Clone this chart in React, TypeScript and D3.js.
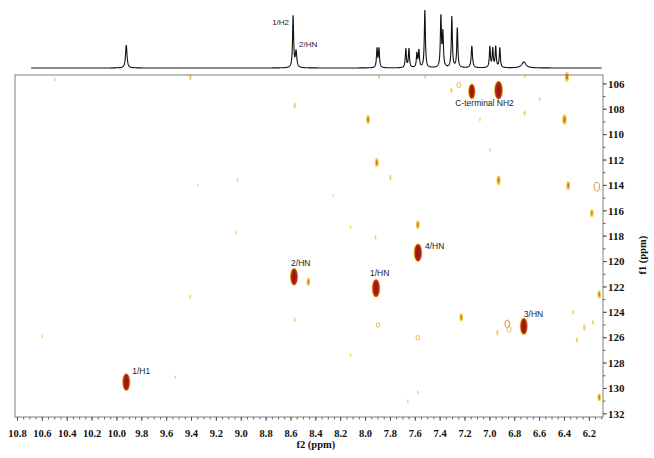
import React from "react";
import * as d3 from "d3";

const W = 654;
const H = 458;

// 1D 1H projection (top trace): peak centres in ppm, heights, half widths in ppm
const hPpm = [9.925, 8.583, 8.559, 7.908, 7.892, 7.676, 7.651, 7.587, 7.571, 7.523, 7.394, 7.378, 7.306, 7.262, 7.145, 7.0, 6.977, 6.953, 6.92, 6.727];
const hHeight = [23, 52, 16, 19, 19, 19, 19, 14, 17, 58, 51, 34, 51, 40, 22, 21, 19, 21, 20, 6];
const hWidth = [0.007, 0.005, 0.007, 0.005, 0.005, 0.005, 0.005, 0.005, 0.005, 0.005, 0.005, 0.005, 0.005, 0.005, 0.006, 0.005, 0.005, 0.005, 0.005, 0.02];

// 2D cross peaks: f2 (1H ppm), f1 (15N ppm), intensity
const peakF2 = [9.925, 8.575, 7.916, 7.578, 6.727, 7.145, 6.93,
  7.98, 7.91, 6.40, 6.93, 7.58, 9.41, 6.38, 8.46, 7.23, 6.18, 6.12, 6.12, 6.37, 7.8, 8.57, 7.31, 6.72,
  7.92, 6.94, 6.24, 6.30, 6.17, 6.33, 6.6, 7.08, 7.0, 10.5, 9.41, 10.6, 9.53, 9.03, 9.04, 8.12, 8.57,
  7.58, 7.66, 7.52, 6.72, 7.89, 9.35, 8.12, 8.26];
const peakF1 = [129.5, 121.2, 122.1, 119.3, 125.1, 106.6, 106.5,
  108.8, 112.2, 108.8, 113.6, 117.1, 105.45, 105.45, 121.6, 124.4, 116.2, 122.6, 130.7, 114.0, 113.4, 107.7, 106.5, 108.3,
  118.1, 125.6, 125.2, 126.2, 124.8, 124.0, 107.2, 108.8, 111.2, 105.65, 122.8, 125.9, 129.1, 113.6, 117.7, 127.4, 124.6,
  130.3, 131.0, 105.45, 105.4, 105.45, 114.0, 117.3, 114.8];
const peakInt = [85, 85, 95, 95, 80, 65, 100,
  20, 20, 30, 24, 18, 14, 24, 16, 16, 15, 15, 15, 20, 12, 12, 12, 12,
  8, 12, 14, 12, 8, 8, 8, 6, 5, 6, 8, 5, 5, 5, 5, 5, 8,
  6, 5, 6, 6, 8, 4, 5, 4];

// contour rings (weak open contours)
const ringF2 = [6.14, 7.25, 6.86, 6.845, 7.9, 7.58];
const ringF1 = [114.1, 106.1, 124.9, 125.35, 125.0, 126.0];
const ringInt = [40, 14, 30, 18, 10, 12];

// assignment labels, anchored on their peaks
const labelText = ["1/H1", "2/HN", "1/HN", "4/HN", "3/HN", "C-terminal NH2"];
const labelF2 = [9.925, 8.575, 7.916, 7.578, 6.727, 6.93];
const labelF1 = [129.5, 121.2, 122.1, 119.3, 125.1, 106.5];

const f2Ticks = d3.range(62, 109, 2).map((v) => v / 10);
const f2Minor = d3.range(610, 1081, 5).map((v) => v / 100);
const f1Ticks = d3.range(106, 133, 2);
const f1Minor = d3.range(106, 133, 1);

export default function App() {
  const frame = { left: 15, right: 603, top: 75, bottom: 417 };

  const x = d3.scaleLinear().domain([10.82, 6.09]).range([frame.left, frame.right]);
  const y = d3.scaleLinear().domain([105.3, 132.25]).range([frame.top, frame.bottom]);
  const yTrace = d3.scaleLinear().domain([0, 60]).range([68, 8]);

  const rY = d3.scaleSqrt().domain([0, 100]).range([0, 8.5]);
  const rX = d3.scaleSqrt().domain([0, 100]).range([0, 3.3]);

  // 1D trace as a sum of lorentzian lines from the peak list
  const trace = d3.range(10.69, 6.1, -0.0015).map((p) => {
    let v = 0;
    hPpm.forEach((c, i) => {
      const w = hWidth[i];
      v += (hHeight[i] * w * w) / ((p - c) * (p - c) + w * w);
    });
    return [p, v] as [number, number];
  });
  const line = d3.line<[number, number]>().x((d) => x(d[0])).y((d) => yTrace(d[1]));

  const labelDx = [6, -3, -6, 7, 0, -14];
  const labelDy = [-8, -11, -12, -4, -9, 16];
  const labelAnchor = ["start", "start", "start", "start", "start", "middle"];

  const serif = "'Liberation Serif', 'Times New Roman', serif";
  const sans = "'Liberation Sans', Arial, sans-serif";

  return (
    <svg width={W} height={H} style={{ position: "absolute", left: 0, top: 0, background: "#fff" }}>
      <rect width={W} height={H} fill="#fff" />

      {/* 1D projection */}
      <path d={line(trace) || ""} fill="none" stroke="#111" strokeWidth={1.1} />
      <text x={x(8.583) - 4} y={25} fontFamily={sans} fontSize={8} textAnchor="end" fill="#222">1/H2</text>
      <text x={x(8.559) + 3} y={47} fontFamily={sans} fontSize={8} fill="#222">2/HN</text>

      {/* cross peaks */}
      <g>
        {peakF2.map((p, i) => {
          const cx = x(p);
          const cy = y(peakF1[i]);
          const v = peakInt[i];
          const rx = Math.max(rX(v), 0.7);
          const ry = rY(v);
          if (v >= 50) {
            return (
              <g key={i}>
                <ellipse cx={cx} cy={cy} rx={rx + 1.1} ry={ry + 1.1} fill="#f2c12e" />
                <ellipse cx={cx} cy={cy} rx={rx + 0.5} ry={ry + 0.5} fill="#de6a1c" />
                <ellipse cx={cx} cy={cy} rx={rx} ry={ry} fill="#ad1f17" />
                <ellipse cx={cx} cy={cy} rx={rx * 0.65} ry={ry * 0.8} fill="#981711" stroke="#c2452f" strokeWidth={0.4} />
              </g>
            );
          }
          if (v >= 15) {
            return (
              <g key={i}>
                <ellipse cx={cx} cy={cy} rx={rx + 0.5} ry={ry + 0.7} fill="#f4cc4a" />
                <ellipse cx={cx} cy={cy} rx={rx * 0.65} ry={ry * 0.7} fill="#d8781c" />
              </g>
            );
          }
          return <ellipse key={i} cx={cx} cy={cy} rx={rx} ry={ry} fill="#f0c23a" opacity={0.75} />;
        })}
        {ringF2.map((p, i) => (
          <ellipse key={"r" + i} cx={x(p)} cy={y(ringF1[i])} rx={rX(ringInt[i]) + 0.6} ry={rY(ringInt[i]) * 0.8}
            fill="none" stroke={ringInt[i] >= 25 ? "#e0801e" : "#efb52c"} strokeWidth={0.9} />
        ))}
      </g>

      {/* labels */}
      {labelText.map((t, i) => (
        <text key={t} x={x(labelF2[i]) + labelDx[i]} y={y(labelF1[i]) + labelDy[i]} fontFamily={sans}
          fontSize={8.5} textAnchor={labelAnchor[i]} fill="#222">{t}</text>
      ))}

      {/* frame */}
      <rect x={frame.left} y={frame.top} width={frame.right - frame.left} height={frame.bottom - frame.top}
        fill="none" stroke="#808080" strokeWidth={1} />

      {/* f2 axis */}
      <g>
        {f2Minor.map((t) => (
          <line key={"m" + t} x1={x(t)} x2={x(t)} y1={frame.bottom} y2={frame.bottom + 2.5} stroke="#444" strokeWidth={0.8} />
        ))}
        {f2Ticks.map((t) => (
          <g key={t}>
            <line x1={x(t)} x2={x(t)} y1={frame.bottom} y2={frame.bottom + 4} stroke="#444" strokeWidth={0.8} />
            <text x={x(t)} y={437} textAnchor="middle" fontFamily={serif} fontWeight="bold" fontSize={10.5} fill="#111">
              {t.toFixed(1)}
            </text>
          </g>
        ))}
        <text x={x(8.4)} y={448} textAnchor="middle" fontFamily={serif} fontWeight="bold" fontSize={10.5} fill="#111">f2 (ppm)</text>
      </g>

      {/* f1 axis */}
      <g>
        {f1Minor.map((t) => (
          <line key={"m" + t} x1={frame.right} x2={frame.right + 2.5} y1={y(t)} y2={y(t)} stroke="#444" strokeWidth={0.8} />
        ))}
        {f1Ticks.map((t) => (
          <g key={t}>
            <line x1={frame.right} x2={frame.right + 4} y1={y(t)} y2={y(t)} stroke="#444" strokeWidth={0.8} />
            <text x={frame.right + 5} y={y(t) + 3.8} fontFamily={serif} fontWeight="bold" fontSize={11} fill="#111">{t}</text>
          </g>
        ))}
        <text transform={`translate(646, ${y(119.5)}) rotate(-90)`} textAnchor="middle" fontFamily={serif}
          fontWeight="bold" fontSize={10.5} fill="#111">f1 (ppm)</text>
      </g>
    </svg>
  );
}
